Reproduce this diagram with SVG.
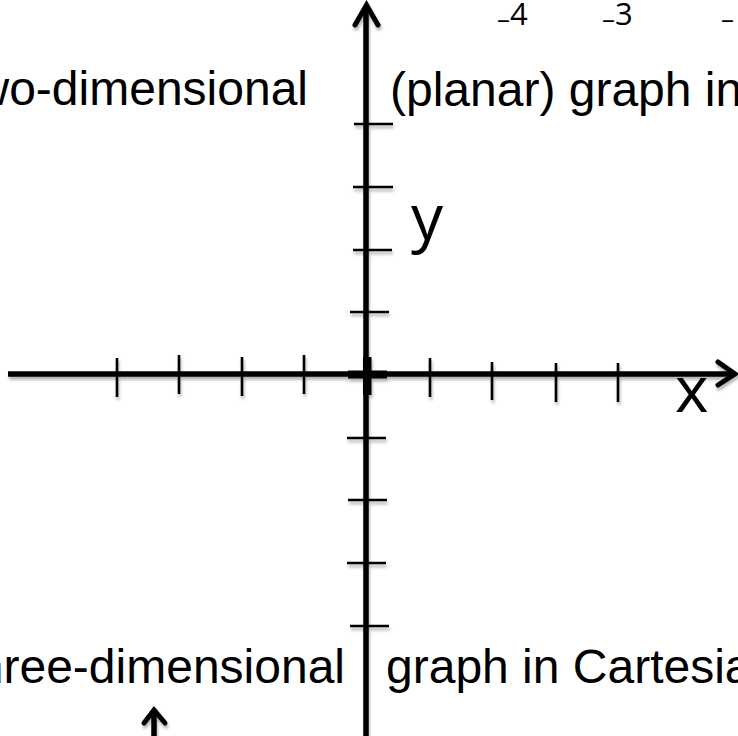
<svg xmlns="http://www.w3.org/2000/svg" width="738" height="736" viewBox="0 0 738 736">
<defs>
<filter id="sh" x="-10%" y="-10%" width="120%" height="120%">
<feDropShadow dx="1" dy="3" stdDeviation="1.5" flood-color="#000" flood-opacity="0.3"/>
</filter>
</defs>
<style>
.ax{stroke:#000;stroke-width:5.5;fill:none;stroke-linecap:butt}
.hd{stroke:#000;stroke-width:5;fill:none;stroke-linecap:round;stroke-linejoin:miter}
.tk{stroke:#000;stroke-width:2.6;fill:none}
.big{font-family:"Liberation Sans",Arial,sans-serif;font-size:48px;fill:#000}
.lab{font-family:"Open Sans","Liberation Sans",sans-serif;font-size:64px;fill:#000}
.num{font-family:"Open Sans","Liberation Sans",sans-serif;font-size:31px;fill:#000}
.dash{stroke:#000;stroke-width:2;fill:none}
</style>
<rect width="738" height="736" fill="#fff"/>
<g id="texts">
<text class="big" x="308" y="105" text-anchor="end">two-dimensional</text>
<text class="big" x="390" y="106">(planar) graph in</text>
<text class="big" x="345" y="683" text-anchor="end">three-dimensional</text>
<text class="big" x="386" y="683">graph in Cartesia</text>
<text class="num" x="497" y="25"><tspan font-size="26" dy="3">–</tspan><tspan dy="-3">4</tspan></text>
<text class="num" x="602" y="25"><tspan font-size="26" dy="3">–</tspan><tspan dy="-3">3</tspan></text>
<text class="num" x="721" y="25"><tspan font-size="26" dy="3">–</tspan></text>
</g>
<g id="connectors" filter="url(#sh)">
<line class="ax" x1="366" y1="6" x2="366" y2="736"/>
<polyline class="hd" points="355,25 366.5,5 378,25"/>
<line class="ax" x1="8" y1="374" x2="734" y2="374"/>
<polyline class="hd" points="718,362 735,374 718,385"/>
<g id="xticks">
<line class="tk" x1="117" y1="358" x2="117" y2="397"/>
<line class="tk" x1="179" y1="355" x2="179" y2="394"/>
<line class="tk" x1="242" y1="357" x2="242" y2="396"/>
<line class="tk" x1="304" y1="355" x2="304" y2="394"/>
<line class="tk" x1="430" y1="358" x2="430" y2="397"/>
<line class="tk" x1="492" y1="362" x2="492" y2="400"/>
<line class="tk" x1="556" y1="363" x2="556" y2="402"/>
<line class="tk" x1="618" y1="363" x2="618" y2="402"/>
</g>
<g id="yticks">
<line class="tk" x1="354" y1="124" x2="393" y2="124"/>
<line class="tk" x1="353" y1="187" x2="393" y2="187"/>
<line class="tk" x1="353" y1="250" x2="392" y2="250"/>
<line class="tk" x1="350" y1="312" x2="389" y2="312"/>
<line class="tk" x1="347" y1="438" x2="386" y2="438"/>
<line class="tk" x1="348" y1="500" x2="387" y2="500"/>
<line class="tk" x1="347" y1="563" x2="386" y2="563"/>
<line class="tk" x1="350" y1="626" x2="389" y2="626"/>
</g>
<g id="origin">
<rect x="348" y="370.5" width="39" height="8" fill="#000"/>
<rect x="363" y="357" width="8.5" height="38" fill="#000"/>
</g>
<line class="ax" x1="154" y1="713" x2="154" y2="736" stroke-width="4.5"/>
<polyline class="hd" points="144,723 154,710 165,723" stroke-width="4.5"/>
</g>
<g id="axis-labels">
<text class="lab" x="411" y="240">y</text>
<text class="lab" x="675" y="412">x</text>
</g>
</svg>
